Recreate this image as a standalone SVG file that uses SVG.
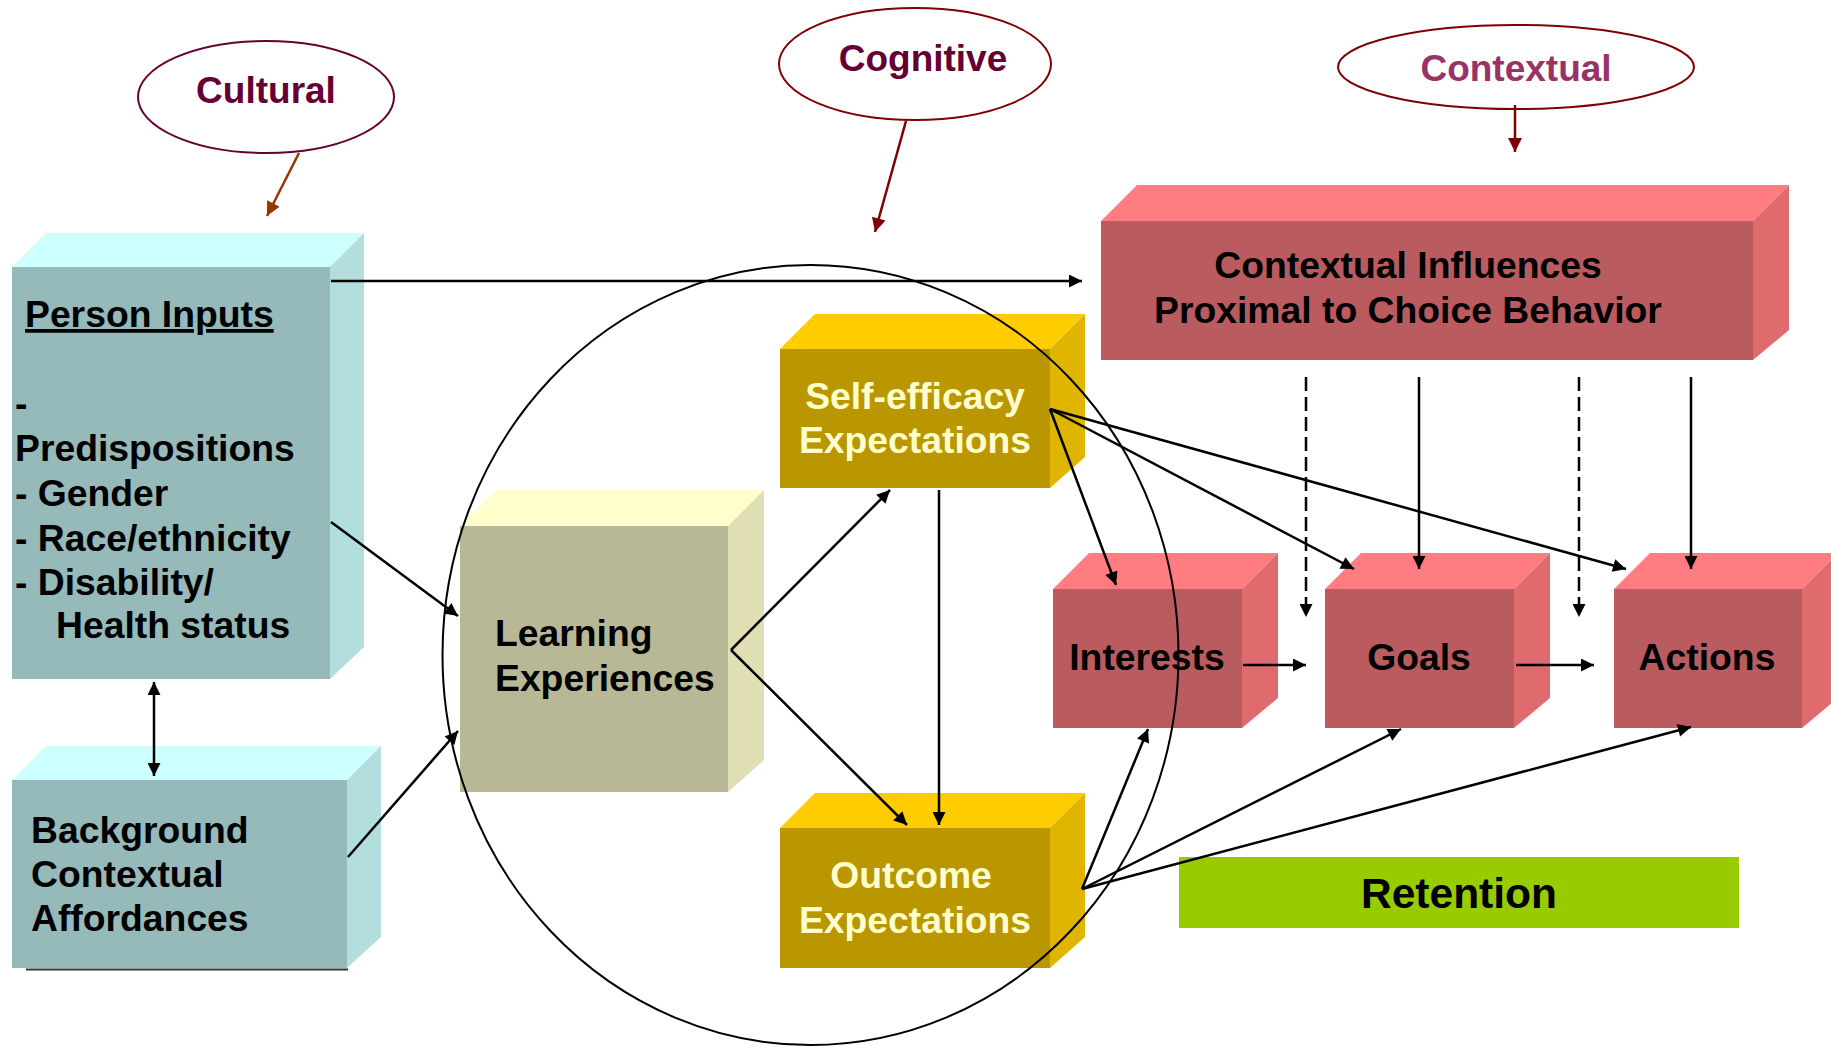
<svg xmlns="http://www.w3.org/2000/svg" width="1831" height="1048" viewBox="0 0 1831 1048">
  <style>
    text { font-family: "Liberation Sans", Arial, sans-serif; font-weight: bold; }
    .lbl { font-size: 37.3px; fill: #000; }
    .lt { font-size: 37.3px; fill: #FFFFCC; }
    .oval { fill: #fff; stroke-width: 2; }
    .conn { stroke: #000; stroke-width: 2.5; fill: none; }
    .teal-top { fill: #CCFFFF; } .teal-front { fill: #96B9B9; } .teal-side { fill: #B3DEDE; }
    .sand-top { fill: #FFFFCC; } .sand-front { fill: #B8B896; } .sand-side { fill: #DFDFB3; }
    .gold-top { fill: #FFCC00; } .gold-front { fill: #BA9700; } .gold-side { fill: #E0B500; }
    .red-top { fill: #FF7C80; } .red-front { fill: #B95B5F; } .red-side { fill: #DF6B6F; }
  </style>
  <defs>
    <marker id="ah" viewBox="0 0 10 10" refX="10" refY="5" markerWidth="16" markerHeight="13" markerUnits="userSpaceOnUse" orient="auto-start-reverse">
      <path d="M0,0 L10,5 L0,10 z" fill="#000"/>
    </marker>
    <marker id="ah-brown" viewBox="0 0 10 10" refX="10" refY="5" markerWidth="16" markerHeight="14" markerUnits="userSpaceOnUse" orient="auto">
      <path d="M0,0 L10,5 L0,10 z" fill="#993300"/>
    </marker>
    <marker id="ah-dark" viewBox="0 0 10 10" refX="10" refY="5" markerWidth="16" markerHeight="14" markerUnits="userSpaceOnUse" orient="auto">
      <path d="M0,0 L10,5 L0,10 z" fill="#800000"/>
    </marker>
  </defs>

  <rect width="1831" height="1048" fill="#fff"/>

  <!-- influence ovals -->
  <g id="cultural">
    <ellipse class="oval" cx="266" cy="97" rx="128" ry="56" stroke="#660033"/>
    <text x="266" y="103" text-anchor="middle" font-size="37" fill="#660033">Cultural</text>
  </g>
  <g id="cognitive">
    <ellipse class="oval" cx="915" cy="64" rx="136" ry="56" stroke="#800000"/>
    <text x="923" y="71" text-anchor="middle" font-size="37" fill="#660033">Cognitive</text>
  </g>
  <g id="contextual">
    <ellipse class="oval" cx="1516" cy="67" rx="178" ry="42" stroke="#800000"/>
    <text x="1516" y="81" text-anchor="middle" font-size="37" fill="#993366">Contextual</text>
  </g>

  <!-- Person Inputs -->
  <g id="person-inputs">
    <polygon class="teal-top" points="12,267 46,233 364,233 330,267"/>
    <polygon class="teal-side" points="330,267 364,233 364,647 330,679"/>
    <rect class="teal-front" x="12" y="267" width="318" height="412"/>
    <text class="lbl" x="25" y="327" text-decoration="underline">Person Inputs</text>
    <text class="lbl" x="15" y="416">-</text>
    <text class="lbl" x="15" y="461">Predispositions</text>
    <text class="lbl" x="15" y="506">- Gender</text>
    <text class="lbl" x="15" y="551">- Race/ethnicity</text>
    <text class="lbl" x="15" y="595">- Disability/</text>
    <text class="lbl" x="56" y="638">Health status</text>
  </g>

  <!-- Background Contextual Affordances -->
  <g id="background">
    <polygon class="teal-top" points="12,780 46,746 381,746 347,780"/>
    <polygon class="teal-side" points="347,780 381,746 381,937 347,968"/>
    <rect class="teal-front" x="12" y="780" width="335" height="188"/>
    <line x1="26" y1="969.5" x2="348" y2="969.5" stroke="#333" stroke-width="2"/>
    <text class="lbl" x="31" y="843">Background</text>
    <text class="lbl" x="31" y="887">Contextual</text>
    <text class="lbl" x="31" y="931">Affordances</text>
  </g>

  <!-- Learning Experiences -->
  <g id="learning">
    <polygon class="sand-top" points="460,526 496,490 764,490 728,526"/>
    <polygon class="sand-side" points="728,526 764,490 764,760 728,792"/>
    <rect class="sand-front" x="460" y="526" width="268" height="266"/>
    <text class="lbl" x="495" y="646">Learning</text>
    <text class="lbl" x="495" y="691">Experiences</text>
  </g>

  <!-- Self-efficacy Expectations -->
  <g id="self-efficacy">
    <polygon class="gold-top" points="780,349 815,314 1085,314 1050,349"/>
    <polygon class="gold-side" points="1050,349 1085,314 1085,457 1050,488"/>
    <rect class="gold-front" x="780" y="349" width="270" height="139"/>
    <text class="lt" x="915" y="409" text-anchor="middle">Self-efficacy</text>
    <text class="lt" x="915" y="453" text-anchor="middle">Expectations</text>
  </g>

  <!-- Outcome Expectations -->
  <g id="outcome">
    <polygon class="gold-top" points="780,828 815,793 1085,793 1050,828"/>
    <polygon class="gold-side" points="1050,828 1085,793 1085,937 1050,968"/>
    <rect class="gold-front" x="780" y="828" width="270" height="140"/>
    <text class="lt" x="911" y="888" text-anchor="middle">Outcome</text>
    <text class="lt" x="915" y="933" text-anchor="middle">Expectations</text>
  </g>

  <!-- Contextual Influences Proximal to Choice Behavior -->
  <g id="contextual-influences">
    <polygon class="red-top" points="1101,221 1137,185 1789,185 1753,221"/>
    <polygon class="red-side" points="1753,221 1789,185 1789,330 1753,360"/>
    <rect class="red-front" x="1101" y="221" width="652" height="139"/>
    <text class="lbl" x="1408" y="278" text-anchor="middle">Contextual Influences</text>
    <text class="lbl" x="1408" y="323" text-anchor="middle">Proximal to Choice Behavior</text>
  </g>

  <!-- Interests -->
  <g id="interests">
    <polygon class="red-top" points="1053,589 1089,553 1278,553 1242,589"/>
    <polygon class="red-side" points="1242,589 1278,553 1278,698 1242,728"/>
    <rect class="red-front" x="1053" y="589" width="189" height="139"/>
    <text class="lbl" x="1147" y="670" text-anchor="middle">Interests</text>
  </g>

  <!-- Goals -->
  <g id="goals">
    <polygon class="red-top" points="1325,589 1361,553 1550,553 1514,589"/>
    <polygon class="red-side" points="1514,589 1550,553 1550,698 1514,728"/>
    <rect class="red-front" x="1325" y="589" width="189" height="139"/>
    <text class="lbl" x="1419" y="670" text-anchor="middle">Goals</text>
  </g>

  <!-- Actions -->
  <g id="actions">
    <polygon class="red-top" points="1614,589 1650,553 1838,553 1802,589"/>
    <polygon class="red-side" points="1802,589 1838,553 1838,698 1802,728"/>
    <rect class="red-front" x="1614" y="589" width="188" height="139"/>
    <text class="lbl" x="1707" y="670" text-anchor="middle">Actions</text>
  </g>

  <!-- Retention -->
  <g id="retention">
    <rect x="1179" y="857" width="560" height="71" fill="#99CC00"/>
    <text x="1459" y="908" text-anchor="middle" font-size="42.5" fill="#000">Retention</text>
  </g>

  <!-- connectors -->
  <g id="connectors">
    <line x1="299" y1="153" x2="267" y2="216" stroke="#993300" stroke-width="2.5" marker-end="url(#ah-brown)"/>
    <line x1="906" y1="121" x2="875" y2="232" stroke="#800000" stroke-width="2.5" marker-end="url(#ah-dark)"/>
    <line x1="1515" y1="105" x2="1515" y2="152" stroke="#800000" stroke-width="2.5" marker-end="url(#ah-dark)"/>

    <line class="conn" x1="331" y1="281" x2="1082" y2="281" marker-end="url(#ah)"/>
    <line class="conn" x1="154" y1="682" x2="154" y2="776" marker-start="url(#ah)" marker-end="url(#ah)"/>
    <line class="conn" x1="331" y1="522" x2="458" y2="616" marker-end="url(#ah)"/>
    <line class="conn" x1="348" y1="857" x2="458" y2="731" marker-end="url(#ah)"/>

    <line class="conn" x1="731" y1="650" x2="890" y2="490" marker-end="url(#ah)"/>
    <line class="conn" x1="731" y1="650" x2="907" y2="825" marker-end="url(#ah)"/>
    <line class="conn" x1="939" y1="490" x2="939" y2="825" marker-end="url(#ah)"/>

    <line class="conn" x1="1050" y1="409" x2="1116" y2="585" marker-end="url(#ah)"/>
    <line class="conn" x1="1050" y1="409" x2="1354" y2="569" marker-end="url(#ah)"/>
    <line class="conn" x1="1050" y1="409" x2="1626" y2="569" marker-end="url(#ah)"/>

    <line class="conn" x1="1306" y1="377" x2="1306" y2="617" stroke-dasharray="14 6" marker-end="url(#ah)"/>
    <line class="conn" x1="1579" y1="377" x2="1579" y2="617" stroke-dasharray="14 6" marker-end="url(#ah)"/>
    <line class="conn" x1="1419" y1="377" x2="1419" y2="569" marker-end="url(#ah)"/>
    <line class="conn" x1="1691" y1="377" x2="1691" y2="569" marker-end="url(#ah)"/>

    <line class="conn" x1="1243" y1="665" x2="1306" y2="665" marker-end="url(#ah)"/>
    <line class="conn" x1="1516" y1="665" x2="1594" y2="665" marker-end="url(#ah)"/>

    <line class="conn" x1="1082" y1="889" x2="1148" y2="729" marker-end="url(#ah)"/>
    <line class="conn" x1="1082" y1="889" x2="1401" y2="729" marker-end="url(#ah)"/>
    <line class="conn" x1="1082" y1="889" x2="1691" y2="727" marker-end="url(#ah)"/>

    <ellipse cx="810.5" cy="655" rx="368" ry="390" fill="none" stroke="#000" stroke-width="2"/>
  </g>
</svg>
